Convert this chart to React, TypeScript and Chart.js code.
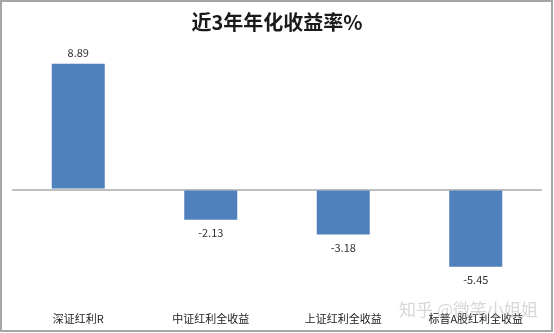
import React, { useEffect, useRef } from "react";
import { Chart, registerables } from "chart.js";

Chart.register(...registerables);

const title = "近3年年化收益率%";
const categories = ["深证红利R", "中证红利全收益", "上证红利全收益", "标普A股红利全收益"];
const values = [8.89, -2.13, -3.18, -5.45];
const valueLabels = ["8.89", "-2.13", "-3.18", "-5.45"];
const watermark = "知乎 @微笑小姐姐";

const FONT = "'Noto Sans CJK SC', 'Noto Sans', sans-serif";

const framePlugin = {
  id: "frame",
  beforeDraw(chart: any) {
    const ctx = chart.ctx;
    ctx.save();
    ctx.fillStyle = "#ffffff";
    ctx.fillRect(0, 0, chart.width, chart.height);
    ctx.strokeStyle = "#a6a6a6";
    ctx.lineWidth = 2;
    ctx.strokeRect(1, 1, chart.width - 3, chart.height - 3);
    ctx.restore();
  },
};

const valueLabelPlugin = {
  id: "valueLabels",
  afterDatasetsDraw(chart: any) {
    const ctx = chart.ctx;
    const meta = chart.getDatasetMeta(0);
    ctx.save();
    ctx.font = `11px ${FONT}`;
    ctx.fillStyle = "#333333";
    ctx.textAlign = "center";
    ctx.textBaseline = "middle";
    meta.data.forEach((bar: any, i: number) => {
      const v = values[i];
      const y = v >= 0 ? bar.y - 11 : bar.y + 13;
      ctx.fillText(valueLabels[i], bar.x, y);
    });
    ctx.restore();
  },
  afterDraw(chart: any) {
    const ctx = chart.ctx;
    ctx.save();
    ctx.font = `17px ${FONT}`;
    ctx.fillStyle = "rgba(175,175,175,0.5)";
    ctx.textAlign = "right";
    ctx.textBaseline = "middle";
    ctx.fillText(watermark, 538, 310);
    ctx.restore();
  },
};

export default function App() {
  const ref = useRef<HTMLCanvasElement | null>(null);
  useEffect(() => {
    if (!ref.current) return;
    const chart = new Chart(ref.current, {
      type: "bar",
      data: {
        labels: categories,
        datasets: [
          {
            data: values,
            backgroundColor: "#4F81BD",
            borderWidth: 0,
            barPercentage: 0.4,
            categoryPercentage: 1,
          },
        ],
      },
      options: {
        responsive: false,
        animation: false,
        layout: { padding: { left: 12, right: 12, top: 0, bottom: 3.4 } },
        plugins: {
          legend: { display: false },
          tooltip: { enabled: false },
          title: {
            display: true,
            text: title,
            color: "#1a1a1a",
            font: { size: 20, weight: "bold", family: FONT },
            padding: { top: 10, bottom: 14 },
          },
        },
        scales: {
          x: {
            grid: { display: false, drawTicks: false },
            border: { display: false },
            ticks: {
              color: "#222222",
              font: { size: 11, family: FONT },
              padding: 4,
              maxRotation: 0,
              autoSkip: false,
            },
          },
          y: {
            min: -8.4,
            max: 10,
            afterBuildTicks: (scale: any) => {
              scale.ticks = [{ value: 0 }];
            },
            grid: { color: "#bfbfbf", lineWidth: 2, drawTicks: false },
            border: { display: false },
            ticks: { display: false },
          },
        },
      },
      plugins: [framePlugin, valueLabelPlugin],
    });
    return () => chart.destroy();
  }, []);
  return (
    <div style={{ position: "absolute", left: 0, top: 0, width: 554, height: 333 }}>
      <canvas ref={ref} width={554} height={333} />
    </div>
  );
}
